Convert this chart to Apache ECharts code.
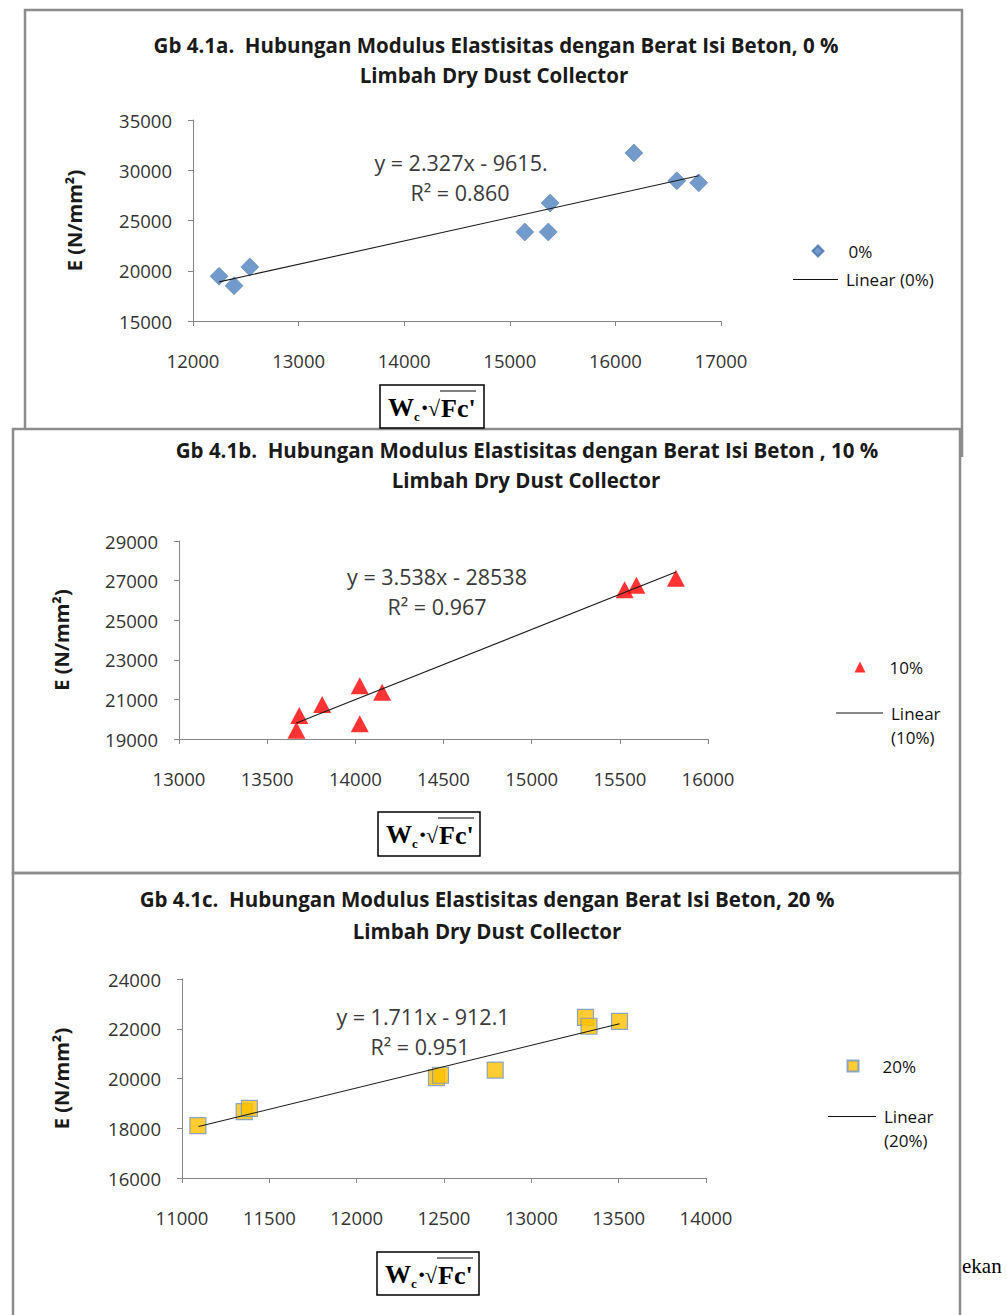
<!DOCTYPE html>
<html>
<head>
<meta charset="utf-8">
<script src="https://cdn.jsdelivr.net/npm/echarts@6/dist/echarts.min.js"></script>
<style>
html,body{margin:0;padding:0;background:#fff;}
#c{position:absolute;left:0;top:0;width:1007px;height:1315px;}
</style>
</head>
<body>
<div id="c"></div>
<script>
// ---------- DATA ----------
// Chart a : 0 %
const xA = [12247, 12389, 12538, 15142, 15364, 15382, 16175, 16582, 16789];
const yA = [19450, 18510, 20385, 23860, 23860, 26740, 31720, 28950, 28750];
const trendAX = [12247, 16789];
const trendAY = [18890, 29450];
const xTicksA = [12000, 13000, 14000, 15000, 16000, 17000];
const yTicksA = [15000, 20000, 25000, 30000, 35000];

// Chart b : 10 %
const xB = [13666, 13682, 13812, 14025, 14025, 14152, 15527, 15594, 15818];
const yB = [19440, 20190, 20745, 21685, 19770, 21365, 26535, 26770, 27120];
const trendBX = [13666, 15818];
const trendBY = [19810, 27430];
const xTicksB = [13000, 13500, 14000, 14500, 15000, 15500, 16000];
const yTicksB = [19000, 21000, 23000, 25000, 27000, 29000];

// Chart c : 20 %
const xC = [11091, 11356, 11386, 12457, 12480, 12793, 13310, 13330, 13505];
const yC = [18105, 18665, 18795, 20035, 20130, 20340, 22460, 22100, 22300];
const trendCX = [11095, 13505];
const trendCY = [18070, 22200];
const xTicksC = [11000, 11500, 12000, 12500, 13000, 13500, 14000];
const yTicksC = [16000, 18000, 20000, 22000, 24000];

const titlesA = ['Gb 4.1a.  Hubungan Modulus Elastisitas dengan Berat Isi Beton, 0 %', 'Limbah Dry Dust Collector'];
const titlesB = ['Gb 4.1b.  Hubungan Modulus Elastisitas dengan Berat Isi Beton , 10 %', 'Limbah Dry Dust Collector'];
const titlesC = ['Gb 4.1c.  Hubungan Modulus Elastisitas dengan Berat Isi Beton, 20 %', 'Limbah Dry Dust Collector'];
const eqA = ['y = 2.327x - 9615.', 'R² = 0.860'];
const eqB = ['y = 3.538x - 28538', 'R² = 0.967'];
const eqC = ['y = 1.711x - 912.1', 'R² = 0.951'];
const seriesNames = ['0%', '10%', '20%'];
const trendNames = ['Linear (0%)', 'Linear (10%)', 'Linear (20%)'];
const yName = 'E (N/mm²)';

// ---------- HELPERS ----------
const SANS = '"Open Sans", "Noto Sans", sans-serif';
const SERIF = '"Liberation Serif", "DejaVu Serif", serif';
const AXIS_COLOR = '#868686';
const LABEL_COLOR = '#333333';
const zip = (a, b) => a.map((v, i) => [v, b[i]]);

function xAxisOf(ticks, gi) {
  return {
    type: 'value', gridIndex: gi,
    min: ticks[0], max: ticks[ticks.length - 1], interval: ticks[1] - ticks[0],
    axisLine: {show: true, onZero: false, lineStyle: {color: AXIS_COLOR, width: 1}},
    axisTick: {show: true, inside: false, length: 5, lineStyle: {color: AXIS_COLOR}},
    splitLine: {show: false},
    axisLabel: {margin: 30, fontSize: 18.5, color: LABEL_COLOR, fontFamily: SANS, formatter: v => String(v), showMinLabel: true, showMaxLabel: true}
  };
}
function yAxisOf(ticks, gi, gap) {
  return {
    type: 'value', gridIndex: gi,
    min: ticks[0], max: ticks[ticks.length - 1], interval: ticks[1] - ticks[0],
    axisLine: {show: true, onZero: false, lineStyle: {color: AXIS_COLOR, width: 1}},
    axisTick: {show: true, inside: false, length: 5, lineStyle: {color: AXIS_COLOR}},
    splitLine: {show: false},
    axisLabel: {margin: 21, fontSize: 18.5, color: LABEL_COLOR, fontFamily: SANS, formatter: v => String(v), showMinLabel: true, showMaxLabel: true},
    name: yName, nameLocation: 'middle', nameRotate: 90, nameGap: gap,
    nameTextStyle: {fontSize: 20, fontWeight: 'bold', color: '#1a1a1a', fontFamily: SANS}
  };
}
function trendSeries(name, gi, xs, ys) {
  return {name: name, type: 'line', xAxisIndex: gi, yAxisIndex: gi, data: zip(xs, ys),
    symbol: 'none', z: 5, silent: true,
    lineStyle: {color: '#1a1a1a', width: 1.1}};
}
function markerLegend(name, left, top, padLeft) {
  return {data: [name], left: left, top: top, orient: 'vertical', padding: 0,
    itemWidth: 11, itemHeight: 11, selectedMode: false, itemGap: 0,
    textStyle: {fontSize: 17, color: '#111', fontFamily: SANS, lineHeight: 16, padding: [0, 0, 0, padLeft]}};
}
function lineLegend(name, left, top, w, lh, fmt) {
  return {data: [{name: name, icon: 'rect', itemStyle: {color: '#111', borderWidth: 0}}],
    left: left, top: top, orient: 'vertical', padding: 0,
    itemWidth: w, itemHeight: 1.2, selectedMode: false, itemGap: 0,
    formatter: fmt || (n => n),
    textStyle: {fontSize: 17, color: '#111', fontFamily: SANS, lineHeight: lh, padding: [0, 0, 0, 3]}};
}
function txt(text, x, y, font, color, align) {
  return {type: 'text', x: x, y: y, silent: true,
    style: {text: text, font: font, fill: color, textAlign: align || 'center', textVerticalAlign: 'middle'}};
}
function formulaBox(x, y, w, h) {
  return {type: 'group', x: x, y: y, silent: true, children: [
    {type: 'rect', shape: {x: 0, y: 0, width: w, height: h}, style: {fill: '#fff', stroke: '#000', lineWidth: 1.5}},
    txt('W', 8, 22, 'bold 26px ' + SERIF, '#000', 'left'),
    txt('c', 34, 31, 'bold 13px ' + SERIF, '#000', 'left'),
    txt('·', 40, 22, 'bold 28px ' + SERIF, '#000', 'left'),
    txt('√', 48, 23, 'bold 22px ' + SERIF, '#000', 'left'),
    {type: 'line', shape: {x1: 60, y1: 6, x2: 96, y2: 6}, style: {stroke: '#000', lineWidth: 1.2}},
    txt("Fc'", 61, 23, 'bold 26px ' + SERIF, '#000', 'left')
  ]};
}
const TITLE_FONT = 'bold 20.5px ' + SANS;
const EQ_FONT = '21.5px ' + SANS;
const EQ_COLOR = '#3a3a3a';
const FRAME = '#8c8c8c';
const twoLine = n => ' \n' + n.replace(' ', '\n');

const option = {
  animation: false,
  grid: [
    {left: 193, top: 120, width: 528, height: 201},
    {left: 179, top: 541, width: 529, height: 198},
    {left: 182, top: 979, width: 524, height: 199}
  ],
  xAxis: [xAxisOf(xTicksA, 0), xAxisOf(xTicksB, 1), xAxisOf(xTicksC, 2)],
  yAxis: [yAxisOf(yTicksA, 0, 109), yAxisOf(yTicksB, 1, 108), yAxisOf(yTicksC, 2, 111)],
  legend: [
    markerLegend(seriesNames[0], 811.5, 242.5, 20),
    lineLegend(trendNames[0], 793, 271, 45, 16),
    markerLegend(seriesNames[1], 854.5, 658.5, 19),
    lineLegend(trendNames[1], 836, 675.5, 47, 25, twoLine),
    markerLegend(seriesNames[2], 846.5, 1057.5, 19),
    lineLegend(trendNames[2], 828, 1080.5, 48, 24, twoLine)
  ],
  series: [
    {name: seriesNames[0], type: 'scatter', xAxisIndex: 0, yAxisIndex: 0, data: zip(xA, yA),
      symbol: 'diamond', symbolSize: 18, z: 3,
      itemStyle: {color: '#4F81BD', borderColor: '#4472A8', borderWidth: 0.6}},
    trendSeries(trendNames[0], 0, trendAX, trendAY),
    {name: seriesNames[1], type: 'scatter', xAxisIndex: 1, yAxisIndex: 1, data: zip(xB, yB),
      symbol: 'triangle', symbolSize: [18, 17], z: 3,
      itemStyle: {color: '#FF0000'}},
    trendSeries(trendNames[1], 1, trendBX, trendBY),
    {name: seriesNames[2], type: 'scatter', xAxisIndex: 2, yAxisIndex: 2, data: zip(xC, yC),
      symbol: 'rect', symbolSize: 16, z: 3,
      itemStyle: {color: '#FFC000', borderColor: '#6F94C8', borderWidth: 1.2}},
    trendSeries(trendNames[2], 2, trendCX, trendCY)
  ],
  graphic: [
    // frames
    {type: 'polyline', silent: true, z: -10, shape: {points: [[25, 429], [25, 10], [962, 10], [962, 457]]}, style: {stroke: FRAME, lineWidth: 2.5, fill: 'none'}},
    {type: 'rect', silent: true, z: -10, shape: {x: 13, y: 429, width: 947, height: 444}, style: {stroke: FRAME, lineWidth: 2.5, fill: 'none'}},
    {type: 'rect', silent: true, z: -10, shape: {x: 13, y: 873, width: 947, height: 460}, style: {stroke: FRAME, lineWidth: 2.5, fill: 'none'}},
    // titles
    txt(titlesA[0], 496, 45, TITLE_FONT, '#1a1a1a'),
    txt(titlesA[1], 494, 75, TITLE_FONT, '#1a1a1a'),
    txt(titlesB[0], 527, 450, TITLE_FONT, '#1a1a1a'),
    txt(titlesB[1], 526, 480, TITLE_FONT, '#1a1a1a'),
    txt(titlesC[0], 487, 899, TITLE_FONT, '#1a1a1a'),
    txt(titlesC[1], 487, 931, TITLE_FONT, '#1a1a1a'),
    // trend equations
    txt(eqA[0], 461, 162, EQ_FONT, EQ_COLOR),
    txt(eqA[1], 460, 192, EQ_FONT, EQ_COLOR),
    txt(eqB[0], 437, 576, EQ_FONT, EQ_COLOR),
    txt(eqB[1], 437, 606, EQ_FONT, EQ_COLOR),
    txt(eqC[0], 423, 1016, EQ_FONT, EQ_COLOR),
    txt(eqC[1], 420, 1046, EQ_FONT, EQ_COLOR),
    // x-axis formula boxes
    formulaBox(380, 385, 104, 43),
    formulaBox(378, 812, 102, 44),
    formulaBox(377, 1252, 102, 43),
    // stray text from the page
    txt('ekan', 962, 1266, '21px ' + SERIF, '#000', 'left')
  ]
};

const chart = echarts.init(document.getElementById('c'), null, {renderer: 'svg', width: 1007, height: 1315});
chart.setOption(option);
</script>
</body>
</html>
